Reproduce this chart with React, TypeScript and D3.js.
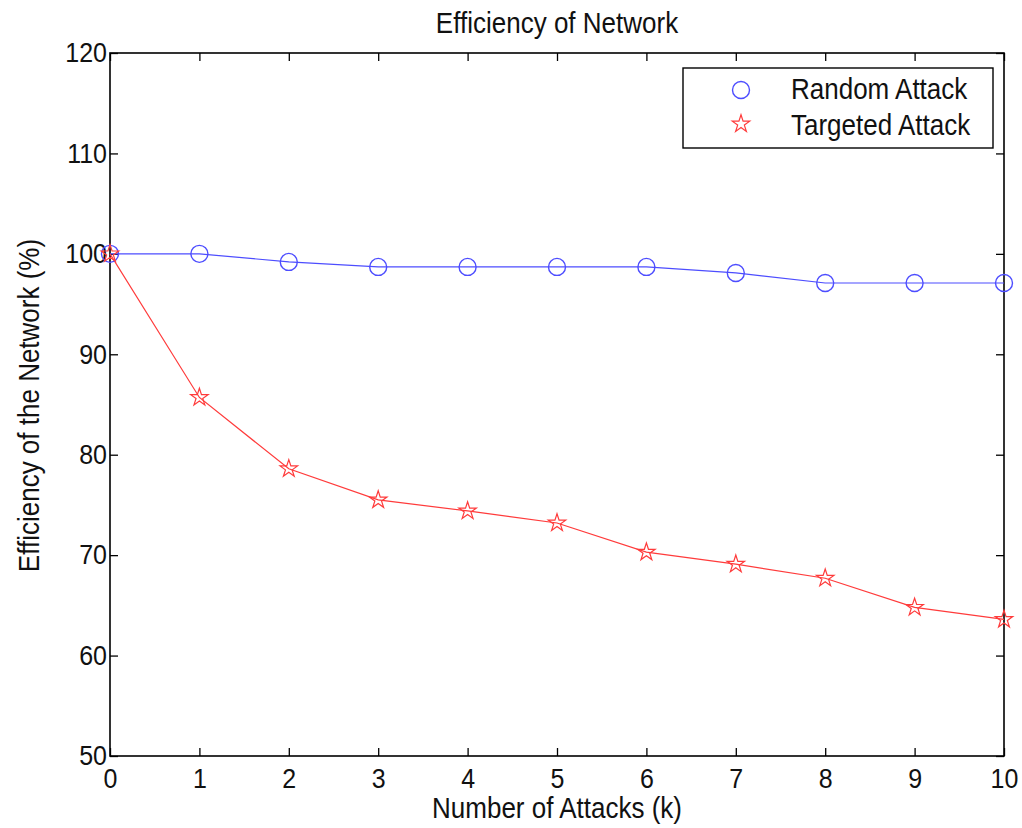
import { useEffect, useRef } from "react";
import * as d3 from "d3";

const attacks = [0, 1, 2, 3, 4, 5, 6, 7, 8, 9, 10];
const randomAttack = [100, 100, 99.2, 98.7, 98.7, 98.7, 98.7, 98.1, 97.1, 97.1, 97.1];
const targetedAttack = [100, 85.7, 78.6, 75.5, 74.4, 73.2, 70.3, 69.1, 67.7, 64.8, 63.6];
const yTicks = [50, 60, 70, 80, 90, 100, 110, 120];
const xTicks = [0, 1, 2, 3, 4, 5, 6, 7, 8, 9, 10];

const W = 1022;
const H = 828;
const M = { top: 53, right: 18, bottom: 72, left: 110 };
const FONT = "Liberation Sans, Arial, Helvetica, sans-serif";
const BLUE = "#4d4dff";
const RED = "#ff3b3b";
const SY = 1.1; // glyphs in the picture are a bit taller than wide

export default function App() {
  const svgRef = useRef<SVGSVGElement | null>(null);

  useEffect(() => {
    if (!svgRef.current) return;
    const el = svgRef.current;
    d3.select(el).selectAll("*").remove();

    const iW = W - M.left - M.right;
    const iH = H - M.top - M.bottom;

    const svg = d3.select(el);
    svg.append("rect").attr("width", W).attr("height", H).attr("fill", "#fff");

    const g = svg.append("g").attr("transform", `translate(${M.left},${M.top})`);

    const x = d3.scaleLinear().domain([0, 10]).range([0, iW]);
    const y = d3.scaleLinear().domain([50, 120]).range([iH, 0]);

    // ticks inside the box on all four sides
    const tk = 8;
    const styleAxis = (a: any) => {
      a.select(".domain").remove();
      a.selectAll(".tick line").attr("stroke", "#000").attr("stroke-width", 1.3);
      a.selectAll("text").attr("font-size", 25).attr("fill", "#111").attr("font-family", FONT)
        .attr("transform", `scale(1,${SY})`);
    };
    g.append("g").attr("transform", `translate(0,${iH})`)
      .call(d3.axisBottom(x).tickValues(xTicks).tickSize(-tk).tickPadding(11).tickFormat(d3.format("d")))
      .call(styleAxis);
    g.append("g")
      .call(d3.axisTop(x).tickValues(xTicks).tickSize(-tk).tickFormat(() => ""))
      .call(styleAxis);
    g.append("g")
      .call(d3.axisLeft(y).tickValues(yTicks).tickSize(-tk).tickPadding(3).tickFormat(d3.format("d")))
      .call(styleAxis);
    g.append("g").attr("transform", `translate(${iW},0)`)
      .call(d3.axisRight(y).tickValues(yTicks).tickSize(-tk).tickFormat(() => ""))
      .call(styleAxis);

    // box
    g.append("rect").attr("width", iW).attr("height", iH)
      .attr("fill", "none").attr("stroke", "#000").attr("stroke-width", 1.6);

    const line = d3.line<number>().x((_, i) => x(attacks[i])).y(d => y(d));

    g.append("path").datum(randomAttack).attr("d", line)
      .attr("fill", "none").attr("stroke", BLUE).attr("stroke-width", 1.2);
    g.append("path").datum(targetedAttack).attr("d", line)
      .attr("fill", "none").attr("stroke", RED).attr("stroke-width", 1.2);

    const star = d3.symbol().type(d3.symbolStar).size(95);

    g.selectAll("circle.rand").data(randomAttack).join("circle")
      .attr("class", "rand")
      .attr("cx", (_, i) => x(attacks[i])).attr("cy", d => y(d)).attr("r", 8.5)
      .attr("fill", "none").attr("stroke", BLUE).attr("stroke-width", 1.4);

    g.selectAll("path.targ").data(targetedAttack).join("path")
      .attr("class", "targ")
      .attr("d", star)
      .attr("transform", (d, i) => `translate(${x(attacks[i])},${y(d)})`)
      .attr("fill", "none").attr("stroke", RED).attr("stroke-width", 1.2);

    const label = (parent: any, tx: number, ty: number, txt: string, anchor = "start", rot = 0) =>
      parent.append("text")
        .attr("transform", `translate(${tx},${ty}) rotate(${rot}) scale(1,${SY})`)
        .attr("text-anchor", anchor).attr("font-size", 26).attr("font-family", FONT)
        .attr("fill", "#111").text(txt);

    // legend
    const lg = svg.append("g").attr("transform", "translate(683,68)");
    lg.append("rect").attr("width", 310).attr("height", 80)
      .attr("fill", "#fff").attr("stroke", "#000").attr("stroke-width", 1.4);
    lg.append("circle").attr("cx", 58).attr("cy", 22).attr("r", 8.5)
      .attr("fill", "none").attr("stroke", BLUE).attr("stroke-width", 1.4);
    lg.append("path").attr("d", star).attr("transform", "translate(58,56)")
      .attr("fill", "none").attr("stroke", RED).attr("stroke-width", 1.2);
    label(lg, 108, 31, "Random Attack");
    label(lg, 108, 67, "Targeted Attack");

    // title and labels
    label(svg, M.left + iW / 2, 33, "Efficiency of Network", "middle");
    label(svg, M.left + iW / 2, 818, "Number of Attacks (k)", "middle");
    label(svg, 39, M.top + iH / 2 + 1, "Efficiency of the Network (%)", "middle", -90);
  }, []);

  return (
    <svg
      ref={svgRef}
      width={W}
      height={H}
      style={{ position: "absolute", left: 0, top: 0, display: "block" }}
    />
  );
}
